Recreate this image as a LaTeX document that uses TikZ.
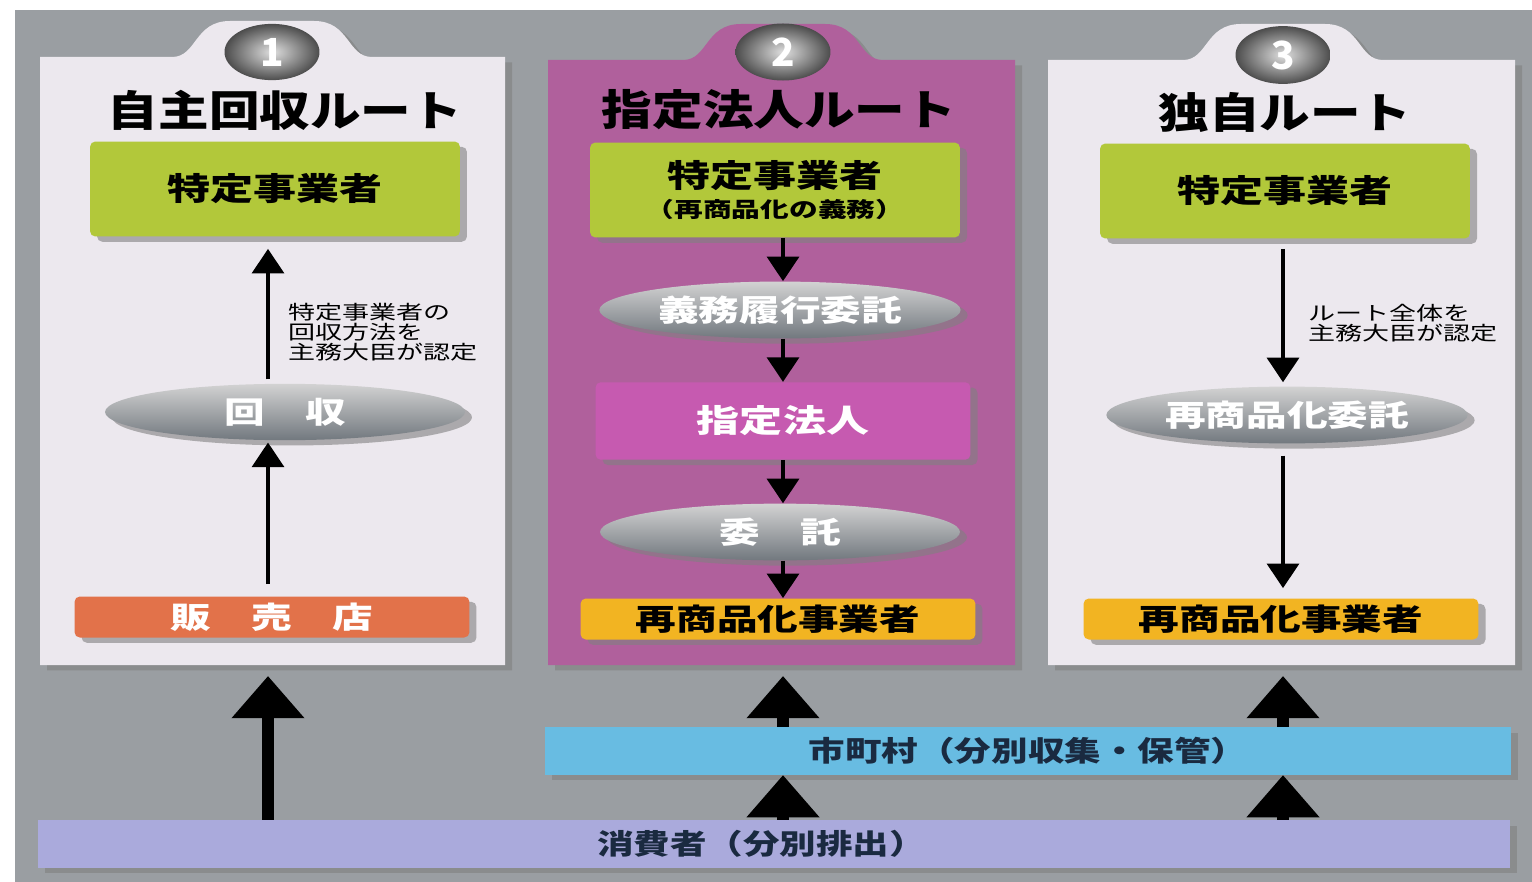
\documentclass[tikz,border=0pt]{standalone}
\usepackage{fontspec}
\newfontfamily\cjk{Noto Sans CJK JP}
\usetikzlibrary{arrows.meta,shapes.geometric,shadows}
\definecolor{bg}{HTML}{9A9EA2}
\definecolor{panellight}{HTML}{ECE8EE}
\definecolor{panelmag}{HTML}{B0609C}
\definecolor{greenbox}{HTML}{B2C83A}
\definecolor{orangebox}{HTML}{E2724A}
\definecolor{yellowbox}{HTML}{F2B422}
\definecolor{magbox}{HTML}{C65AB0}
\definecolor{bluebar}{HTML}{68BCE2}
\definecolor{lavbar}{HTML}{AAAADC}
\definecolor{ellgray}{HTML}{8E969E}
\definecolor{navy}{HTML}{1A2A40}
\newcommand{\wide}[2][1.36]{\scalebox{#1}[1]{#2}}
\tikzset{
  x=0.02cm, y=-0.02cm,
  every node/.style={font=\cjk\bfseries},
  boxsh/.style={drop shadow={shadow xshift=4pt,shadow yshift=-3pt,opacity=0.6}},
  greenb/.style={draw=none,fill=greenbox,rounded corners=3pt,boxsh,minimum width=7.4cm,minimum height=1.9cm,font=\cjk\bfseries\fontsize{18}{20}\selectfont},
  flatb/.style={draw=none,rounded corners=3pt,boxsh,minimum width=7.9cm,minimum height=0.82cm,font=\cjk\bfseries\fontsize{17}{18}\selectfont},
  ell/.style={ellipse,draw=none,top color=gray!35,bottom color=ellgray!80!black,boxsh,minimum width=7.2cm,minimum height=1.1cm,text=white,font=\cjk\bfseries\fontsize{17}{18}\selectfont},
  ttl/.style={font=\cjk\bfseries\fontsize{24}{26}\selectfont},
  lbl/.style={align=left,anchor=west,font=\cjk\fontsize{11}{11.5}\selectfont},
  sarr/.style={line width=2.6pt,-{Triangle[width=18pt,length=14pt]}},
  barr/.style={line width=6.5pt,-{Triangle[width=40pt,length=24pt]}},
  barb/.style={draw=none,boxsh,minimum height=0.95cm,font=\cjk\bfseries\fontsize{16}{18}\selectfont},
  numb/.style={ellipse,minimum width=1.9cm,minimum height=0.95cm,inner color=gray!25,outer color=gray!60!black,text=white,font=\cjk\bfseries\fontsize{22}{22}\selectfont}
}
\newcommand{\panelpath}[5]{% x0 x1 cx top fill
  \fill[#5,boxsh] (#1,665) -- (#1,#4) -- (#3-100,#4) .. controls (#3-75,#4) and (#3-78,#4-36) .. (#3-42,#4-36) -- (#3+42,#4-36) .. controls (#3+78,#4-36) and (#3+75,#4) .. (#3+100,#4) -- (#2,#4) -- (#2,665) -- cycle;
}
\begin{document}
\begin{tikzpicture}
\useasboundingbox (0,0) rectangle (1532,882);
\fill[white] (0,0) rectangle (1532,882);
\fill[bg] (15,10) rectangle (1532,882);
% panels
\panelpath{40}{505}{272}{57}{panellight}
\panelpath{548}{1015}{783}{60}{panelmag}
\panelpath{1048}{1515}{1283}{60}{panellight}
\node[numb] (n1) at (272,52) {1};
\node[numb] (n2) at (783,52) {2};
\node[numb] (n3) at (1283,55) {3};
\node[ttl] (t1) at (285,110) {\wide[1.2]{自主回収ルート}};
\node[ttl] (t2) at (779,110) {\wide[1.2]{指定法人ルート}};
\node[ttl] (t3) at (1285,112) {\wide[1.2]{独自ルート}};
% route 1
\node[greenb] (g1) at (275,189) {\wide{特定事業者}};
\node[ell] (e1) at (285,412) {\wide{回　収}};
\node[flatb,fill=orangebox,text=white] (s1) at (272,617) {\wide{販　売　店}};
\draw[sarr,shorten <=0.08cm,shorten >=0.24cm] (e1.north -| 268,0) -- (g1.south -| 268,0);
\node[lbl] (l1) at (282,332) {\wide[1.4]{特定事業者の}\\\wide[1.4]{回収方法を}\\\wide[1.4]{主務大臣が認定}};
\draw[sarr,shorten <=0.24cm,shorten >=0.04cm] (s1.north -| 268,0) -- (e1.south -| 268,0);
% route 2
\node[greenb,align=center] (g2) at (775,190) {\wide{特定事業者}\\[-3pt]{\fontsize{12}{14}\selectfont\wide{（再商品化の義務）}}};
\node[ell] (e2) at (780,310) {\wide{義務履行委託}};
\node[draw=none,fill=magbox,rounded corners=3pt,boxsh,minimum width=7.5cm,minimum height=1.55cm,text=white,font=\cjk\bfseries\fontsize{18}{20}\selectfont] (m2) at (783,421) {\wide{指定法人}};
\node[ell] (e2b) at (780,532) {\wide{委　託}};
\node[flatb,fill=yellowbox] (y2) at (778,619) {\wide{再商品化事業者}};
\draw[sarr] (g2.south -| 783,0) -- (e2.north -| 783,0);
\draw[sarr] (e2.south -| 783,0) -- (m2.north -| 783,0);
\draw[sarr] (m2.south -| 783,0) -- (e2b.north -| 783,0);
\draw[sarr] (e2b.south -| 783,0) -- (y2.north -| 783,0);
% route 3
\node[greenb] (g3) at (1285,191) {\wide{特定事業者}};
\node[ell] (e3) at (1287,415) {\wide{再商品化委託}};
\node[flatb,fill=yellowbox] (y3) at (1281,619) {\wide{再商品化事業者}};
\draw[sarr,shorten <=0.2cm,shorten >=0.08cm] (g3.south -| 1283,0) -- (e3.north -| 1283,0);
\node[lbl] (l3) at (1302,323) {\wide[1.4]{ルート全体を}\\\wide[1.4]{主務大臣が認定}};
\draw[sarr,shorten <=0.24cm,shorten >=0.2cm] (e3.south -| 1283,0) -- (y3.north -| 1283,0);
% bars
\node[barb,fill=bluebar,text=navy,minimum width=19.34cm] (mun) at (1028,751) {\wide[1.3]{市町村（分別収集・保管）}};
\node[barb,fill=lavbar,text=navy,minimum width=29.44cm] (con) at (774,844) {\hspace*{-0.5cm}\wide[1.3]{消費者（分別排出）}};
\draw[barr] (con.north -| 268,0) -- (268,676);
\draw[barr] (mun.north -| 783,0) -- (783,676);
\draw[barr] (mun.north -| 1283,0) -- (1283,676);
\draw[barr] (con.north -| 783,0) -- (mun.south -| 783,0);
\draw[barr] (con.north -| 1283,0) -- (mun.south -| 1283,0);
\end{tikzpicture}
\end{document}
